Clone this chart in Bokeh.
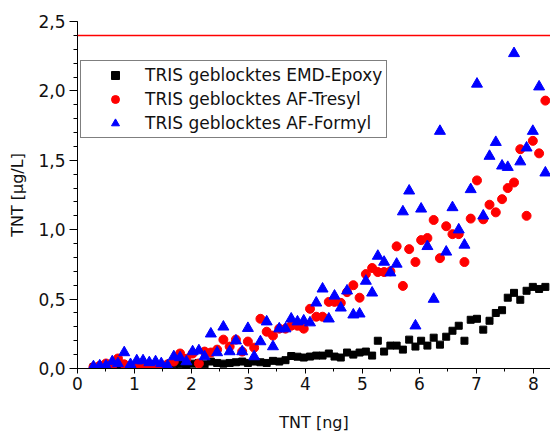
from bokeh.plotting import figure
from bokeh.models import (Range1d, SingleIntervalTicker, CustomJSTickFormatter, Span,
                          Legend, LegendItem, ColumnDataSource)
from bokeh.embed import file_html
from bokeh.resources import INLINE

# ---- data ----
x_vals = [0.28, 0.39, 0.50, 0.61, 0.71, 0.82, 0.93, 1.04, 1.15, 1.26,
          1.37, 1.47, 1.58, 1.69, 1.80, 1.91, 2.02, 2.13, 2.23, 2.34,
          2.45, 2.56, 2.67, 2.78, 2.89, 2.99, 3.10, 3.21, 3.32, 3.43,
          3.54, 3.65, 3.75, 3.86, 3.97, 4.08, 4.19, 4.30, 4.41, 4.51,
          4.62, 4.73, 4.84, 4.95, 5.06, 5.17, 5.27, 5.38, 5.49, 5.60,
          5.71, 5.82, 5.93, 6.03, 6.14, 6.25, 6.36, 6.47, 6.58, 6.69,
          6.79, 6.90, 7.01, 7.12, 7.23, 7.34, 7.45, 7.55, 7.66, 7.77,
          7.88, 7.99, 8.10, 8.21]

epoxy = [0.01, 0.01, 0.01, 0.015, 0.01, 0.02, 0.01, 0.015, 0.02, 0.01,
         0.02, 0.015, 0.02, 0.03, 0.03, 0.02, 0.035, 0.04, 0.03, 0.05,
         0.04, 0.035, 0.04, 0.045, 0.05, 0.04, 0.05, 0.045, 0.04, 0.055,
         0.05, 0.06, 0.09, 0.085,
         0.079, 0.086, 0.093, 0.093, 0.108, 0.086, 0.079, 0.115, 0.100, 0.115,
         0.122, 0.093, 0.20, 0.122, 0.165, 0.165, 0.136, 0.208, 0.158, 0.20,
         0.165, 0.222, 0.172, 0.229, 0.272, 0.308, 0.20, 0.351, 0.358, 0.28,
         0.344, 0.40, 0.42, 0.51, 0.545, 0.495, 0.56, 0.588, 0.573, 0.588]

tresyl = [0.01, 0.02, 0.036, 0.02, 0.072, 0.03, 0.02, 0.03, 0.02, 0.03,
          0.02, 0.02, 0.03, 0.05, 0.108, 0.07, 0.108, 0.036, 0.122, 0.115,
          0.136, 0.208, 0.158, 0.208, 0.122, 0.194, 0.15, 0.358, 0.265, 0.237,
          0.287, 0.287, 0.308, 0.308,
          0.287, 0.43, 0.373, 0.373, 0.48, 0.48, 0.473, 0.55, 0.60, 0.51,
          0.68, 0.724, 0.695, 0.695, 0.70, 0.88, 0.595, 0.86, 0.767, 0.925,
          0.94, 1.07, 0.795, 1.025, 0.968, 0.968, 0.767, 1.08, 1.355, 1.075,
          1.18, 1.125, 1.22, 1.30, 1.34, 1.58, 1.10, 1.64, 1.55, 1.93]

formyl = [0.014, 0.02, 0.02, 0.05, 0.036, 0.115, 0.03, 0.057, 0.057, 0.043,
          0.05, 0.036, 0.02, 0.086, 0.079, 0.05, 0.122, 0.129, 0.086, 0.25,
          0.115, 0.30, 0.122, 0.20, 0.122, 0.29, 0.086, 0.194, 0.337, 0.158,
          0.287, 0.287, 0.358, 0.337,
          0.344, 0.33, 0.473, 0.574, 0.358, 0.523, 0.437, 0.56, 0.387, 0.394,
          0.63, 0.545, 0.81, 0.767, 0.69, 0.753, 1.13, 1.28, 0.308, 1.15,
          0.88, 0.50, 1.71, 0.84, 1.16, 1.00, 0.89, 1.29, 2.05, 1.10,
          1.53, 1.63, 1.46, 1.45, 2.27, 1.49, 1.59, 1.71, 2.03, 1.41]

labels = ["TRIS geblocktes EMD-Epoxy", "TRIS geblocktes AF-Tresyl", "TRIS geblocktes AF-Formyl"]
limit_value = 2.4

FONT = "DejaVu Sans"

p = figure(width=550, height=434, output_backend="svg", toolbar_location=None,
           x_range=Range1d(0, 8.3), y_range=Range1d(0, 2.5),
           min_border_left=77, min_border_right=0, min_border_top=21, min_border_bottom=64)
p.outline_line_color = None
p.xgrid.visible = False
p.ygrid.visible = False
p.background_fill_color = "white"

src = ColumnDataSource(dict(x=x_vals, e=epoxy, t=tresyl, f=formyl))

r1 = p.scatter("x", "e", source=src, marker="square", size=7, color="black")
r2 = p.scatter("x", "t", source=src, marker="circle", size=9, color="red")
r3 = p.scatter("x", "f", source=src, marker="triangle", size=11, color="blue")

p.add_layout(Span(location=limit_value, dimension="width", line_color="red", line_width=1.5))

# axes
p.xaxis.ticker = SingleIntervalTicker(interval=1, num_minor_ticks=2)
p.yaxis.ticker = SingleIntervalTicker(interval=0.5, num_minor_ticks=5)
p.yaxis.formatter = CustomJSTickFormatter(code="return tick.toFixed(1).replace('.', ',');")
p.xaxis.formatter = CustomJSTickFormatter(code="return tick.toFixed(0);")
for ax in (p.xaxis[0], p.yaxis[0]):
    ax.axis_line_color = "black"
    ax.major_tick_line_color = "black"
    ax.minor_tick_line_color = "black"
    ax.major_label_text_font = FONT
    ax.major_label_text_font_size = "17px"
    ax.major_label_text_color = "#111111"
    ax.axis_label_text_font = FONT
    ax.axis_label_text_font_size = "16px"
    ax.axis_label_text_font_style = "normal"
    ax.axis_label_text_color = "#111111"
    ax.major_tick_in = 0
    ax.minor_tick_in = 0
p.xaxis.major_tick_out = 5
p.xaxis.minor_tick_out = 3
p.yaxis.major_tick_out = 8
p.yaxis.minor_tick_out = 4
p.xaxis.major_label_standoff = 3
p.yaxis.major_label_standoff = 4
p.xaxis.axis_label = "TNT [ng]"
p.yaxis.axis_label = "TNT [µg/L]"
p.xaxis.axis_label_standoff = 20
p.yaxis.axis_label_standoff = 8

legend = Legend(items=[LegendItem(label=labels[0], renderers=[r1]),
                       LegendItem(label=labels[1], renderers=[r2]),
                       LegendItem(label=labels[2], renderers=[r3])],
                location=(3, 230))
legend.label_text_font = FONT
legend.label_text_font_size = "17px"
legend.label_text_color = "#111111"
legend.border_line_color = "black"
legend.border_line_width = 1
legend.background_fill_alpha = 1.0
legend.padding = 4
legend.spacing = 4
legend.label_height = 20
legend.glyph_height = 20
legend.glyph_width = 60
legend.label_standoff = 0
legend.margin = 0
p.add_layout(legend)

open("out.html", "w").write(file_html(p, INLINE))
